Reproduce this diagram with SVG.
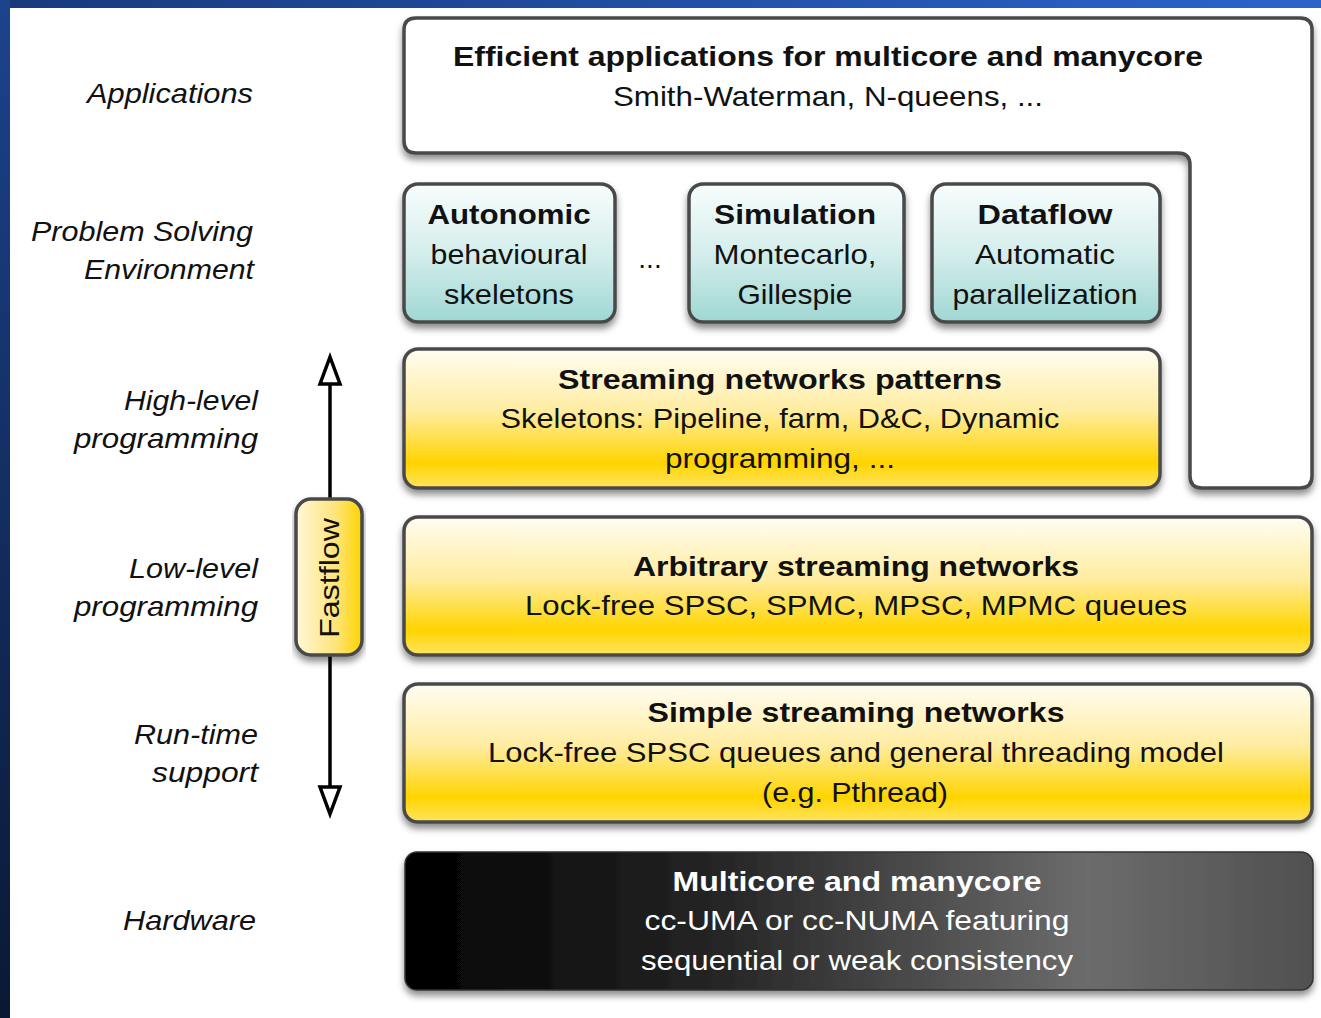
<svg xmlns="http://www.w3.org/2000/svg" width="1321" height="1018" viewBox="0 0 1321 1018">
  <defs>
    <linearGradient id="topBand" x1="0" y1="0" x2="1" y2="0">
      <stop offset="0" stop-color="#173a7c"/>
      <stop offset="1" stop-color="#2c64cc"/>
    </linearGradient>
    <linearGradient id="leftBand" x1="0" y1="0" x2="0" y2="1">
      <stop offset="0" stop-color="#1c438c"/>
      <stop offset="1" stop-color="#0a1834"/>
    </linearGradient>
    <linearGradient id="teal" x1="0" y1="0" x2="0" y2="1">
      <stop offset="0" stop-color="#f8fdfd"/>
      <stop offset="0.5" stop-color="#d4eeec"/>
      <stop offset="1" stop-color="#9fd7d3"/>
    </linearGradient>
    <linearGradient id="yellow" x1="0" y1="0" x2="0" y2="1">
      <stop offset="0" stop-color="#fffdf2"/>
      <stop offset="0.45" stop-color="#ffeca0"/>
      <stop offset="0.82" stop-color="#ffd400"/>
      <stop offset="1" stop-color="#ffe460"/>
    </linearGradient>
    <linearGradient id="pill" x1="0" y1="0" x2="1" y2="0">
      <stop offset="0" stop-color="#fff8d8"/>
      <stop offset="0.6" stop-color="#ffe47a"/>
      <stop offset="1" stop-color="#ffd400"/>
    </linearGradient>
    <linearGradient id="dark" x1="0" y1="0" x2="1" y2="0">
      <stop offset="0" stop-color="#000000"/>
      <stop offset="0.35" stop-color="#262626"/>
      <stop offset="0.75" stop-color="#6c6c6c"/>
      <stop offset="1" stop-color="#505050"/>
    </linearGradient>
    <filter id="shadow" x="-5%" y="-10%" width="110%" height="130%">
      <feDropShadow dx="0" dy="5" stdDeviation="3.5" flood-color="#000" flood-opacity="0.45"/>
    </filter>
    <style>
      .box { stroke: #4a4a4a; stroke-width: 3.5; }
      .head { fill: #fff; stroke: #000; stroke-width: 3.5; stroke-linejoin: miter; }
      .t { font-family: "Liberation Sans", Arial, sans-serif; font-size: 28px; fill: #111; text-anchor: middle; }
      .b { font-weight: bold; }
      .w { fill: #fff; }
      .lab { font-family: "Liberation Sans", Arial, sans-serif; font-size: 28px; font-style: italic; fill: #111; text-anchor: end; }
    </style>
  </defs>

  <!-- page background with blue frame -->
  <rect x="0" y="0" width="1321" height="1018" fill="#ffffff"/>
  <rect x="0" y="0" width="1321" height="8" fill="url(#topBand)"/>
  <rect x="0" y="0" width="10" height="1018" fill="url(#leftBand)"/>

  <!-- layer labels -->
  <g id="labels">
    <text class="lab" x="253" y="103" textLength="166" lengthAdjust="spacingAndGlyphs">Applications</text>
    <text class="lab" x="253" y="241" textLength="222" lengthAdjust="spacingAndGlyphs">Problem Solving</text>
    <text class="lab" x="254" y="279" textLength="170" lengthAdjust="spacingAndGlyphs">Environment</text>
    <text class="lab" x="258" y="410" textLength="134" lengthAdjust="spacingAndGlyphs">High-level</text>
    <text class="lab" x="258" y="448" textLength="184" lengthAdjust="spacingAndGlyphs">programming</text>
    <text class="lab" x="258" y="578" textLength="129" lengthAdjust="spacingAndGlyphs">Low-level</text>
    <text class="lab" x="258" y="616" textLength="184" lengthAdjust="spacingAndGlyphs">programming</text>
    <text class="lab" x="258" y="744" textLength="124" lengthAdjust="spacingAndGlyphs">Run-time</text>
    <text class="lab" x="258" y="782" textLength="106" lengthAdjust="spacingAndGlyphs">support</text>
    <text class="lab" x="256" y="930" textLength="133" lengthAdjust="spacingAndGlyphs">Hardware</text>
  </g>

  <!-- Fastflow span arrow with hollow heads at both ends -->
  <g id="connectors">
    <line x1="330" y1="384" x2="330" y2="787" stroke="#000" stroke-width="3.5"/>
    <path class="head" d="M330 357 L340 384 L320 384 Z"/>
    <path class="head" d="M330 814 L340 787 L320 787 Z"/>
  </g>

  <g id="fastflow">
    <rect x="296" y="499" width="66" height="156" rx="15" fill="url(#pill)" class="box" filter="url(#shadow)"/>
    <text class="t" transform="translate(339,578) rotate(-90)" x="0" y="0" textLength="120" lengthAdjust="spacingAndGlyphs">Fastflow</text>
  </g>

  <!-- Applications layer (L-shaped) -->
  <g id="applications">
    <path class="box" fill="#ffffff" filter="url(#shadow)" d="M416 18 H1300 Q1312 18 1312 30 V476 Q1312 488 1300 488 H1202 Q1190 488 1190 476 V165 Q1190 153 1178 153 H416 Q404 153 404 141 V30 Q404 18 416 18 Z"/>
    <text class="t b" x="828" y="66" textLength="750" lengthAdjust="spacingAndGlyphs">Efficient applications for multicore and manycore</text>
    <text class="t" x="828" y="106" textLength="430" lengthAdjust="spacingAndGlyphs">Smith-Waterman, N-queens, ...</text>
  </g>

  <!-- Problem solving environments -->
  <g id="autonomic">
    <rect class="box" x="404" y="184" width="211" height="138" rx="14" fill="url(#teal)" filter="url(#shadow)"/>
    <text class="t b" x="509" y="224" textLength="163" lengthAdjust="spacingAndGlyphs">Autonomic</text>
    <text class="t" x="509" y="264" textLength="157" lengthAdjust="spacingAndGlyphs">behavioural</text>
    <text class="t" x="509" y="304" textLength="130" lengthAdjust="spacingAndGlyphs">skeletons</text>
  </g>
  <g id="ellipsis">
    <text class="t" x="650" y="268">...</text>
  </g>
  <g id="simulation">
    <rect class="box" x="689" y="184" width="215" height="138" rx="14" fill="url(#teal)" filter="url(#shadow)"/>
    <text class="t b" x="795" y="224" textLength="162" lengthAdjust="spacingAndGlyphs">Simulation</text>
    <text class="t" x="795" y="264" textLength="163" lengthAdjust="spacingAndGlyphs">Montecarlo,</text>
    <text class="t" x="795" y="304" textLength="115" lengthAdjust="spacingAndGlyphs">Gillespie</text>
  </g>
  <g id="dataflow">
    <rect class="box" x="932" y="184" width="228" height="138" rx="14" fill="url(#teal)" filter="url(#shadow)"/>
    <text class="t b" x="1045" y="224" textLength="135" lengthAdjust="spacingAndGlyphs">Dataflow</text>
    <text class="t" x="1045" y="264" textLength="140" lengthAdjust="spacingAndGlyphs">Automatic</text>
    <text class="t" x="1045" y="304" textLength="185" lengthAdjust="spacingAndGlyphs">parallelization</text>
  </g>

  <!-- High-level programming -->
  <g id="patterns">
    <rect class="box" x="404" y="349" width="756" height="139" rx="14" fill="url(#yellow)" filter="url(#shadow)"/>
    <text class="t b" x="780" y="389" textLength="444" lengthAdjust="spacingAndGlyphs">Streaming networks patterns</text>
    <text class="t" x="780" y="428" textLength="559" lengthAdjust="spacingAndGlyphs">Skeletons: Pipeline, farm, D&amp;C, Dynamic</text>
    <text class="t" x="780" y="468" textLength="230" lengthAdjust="spacingAndGlyphs">programming, ...</text>
  </g>

  <!-- Low-level programming -->
  <g id="arbitrary">
    <rect class="box" x="404" y="517" width="908" height="138" rx="14" fill="url(#yellow)" filter="url(#shadow)"/>
    <text class="t b" x="856" y="576" textLength="446" lengthAdjust="spacingAndGlyphs">Arbitrary streaming networks</text>
    <text class="t" x="856" y="615" textLength="662" lengthAdjust="spacingAndGlyphs">Lock-free SPSC, SPMC, MPSC, MPMC queues</text>
  </g>

  <!-- Run-time support -->
  <g id="simple">
    <rect class="box" x="404" y="684" width="908" height="138" rx="14" fill="url(#yellow)" filter="url(#shadow)"/>
    <text class="t b" x="856" y="722" textLength="417" lengthAdjust="spacingAndGlyphs">Simple streaming networks</text>
    <text class="t" x="856" y="762" textLength="736" lengthAdjust="spacingAndGlyphs">Lock-free SPSC queues and general threading model</text>
    <text class="t" x="855" y="802" textLength="186" lengthAdjust="spacingAndGlyphs">(e.g. Pthread)</text>
  </g>

  <!-- Hardware -->
  <g id="hardware">
    <rect x="405" y="852" width="908" height="138" rx="12" fill="url(#dark)" stroke="#333" stroke-width="1.5" filter="url(#shadow)"/>
    <text class="t b w" x="857" y="891" textLength="369" lengthAdjust="spacingAndGlyphs">Multicore and manycore</text>
    <text class="t w" x="857" y="930" textLength="425" lengthAdjust="spacingAndGlyphs">cc-UMA or cc-NUMA featuring</text>
    <text class="t w" x="857" y="970" textLength="432" lengthAdjust="spacingAndGlyphs">sequential or weak consistency</text>
  </g>
</svg>
